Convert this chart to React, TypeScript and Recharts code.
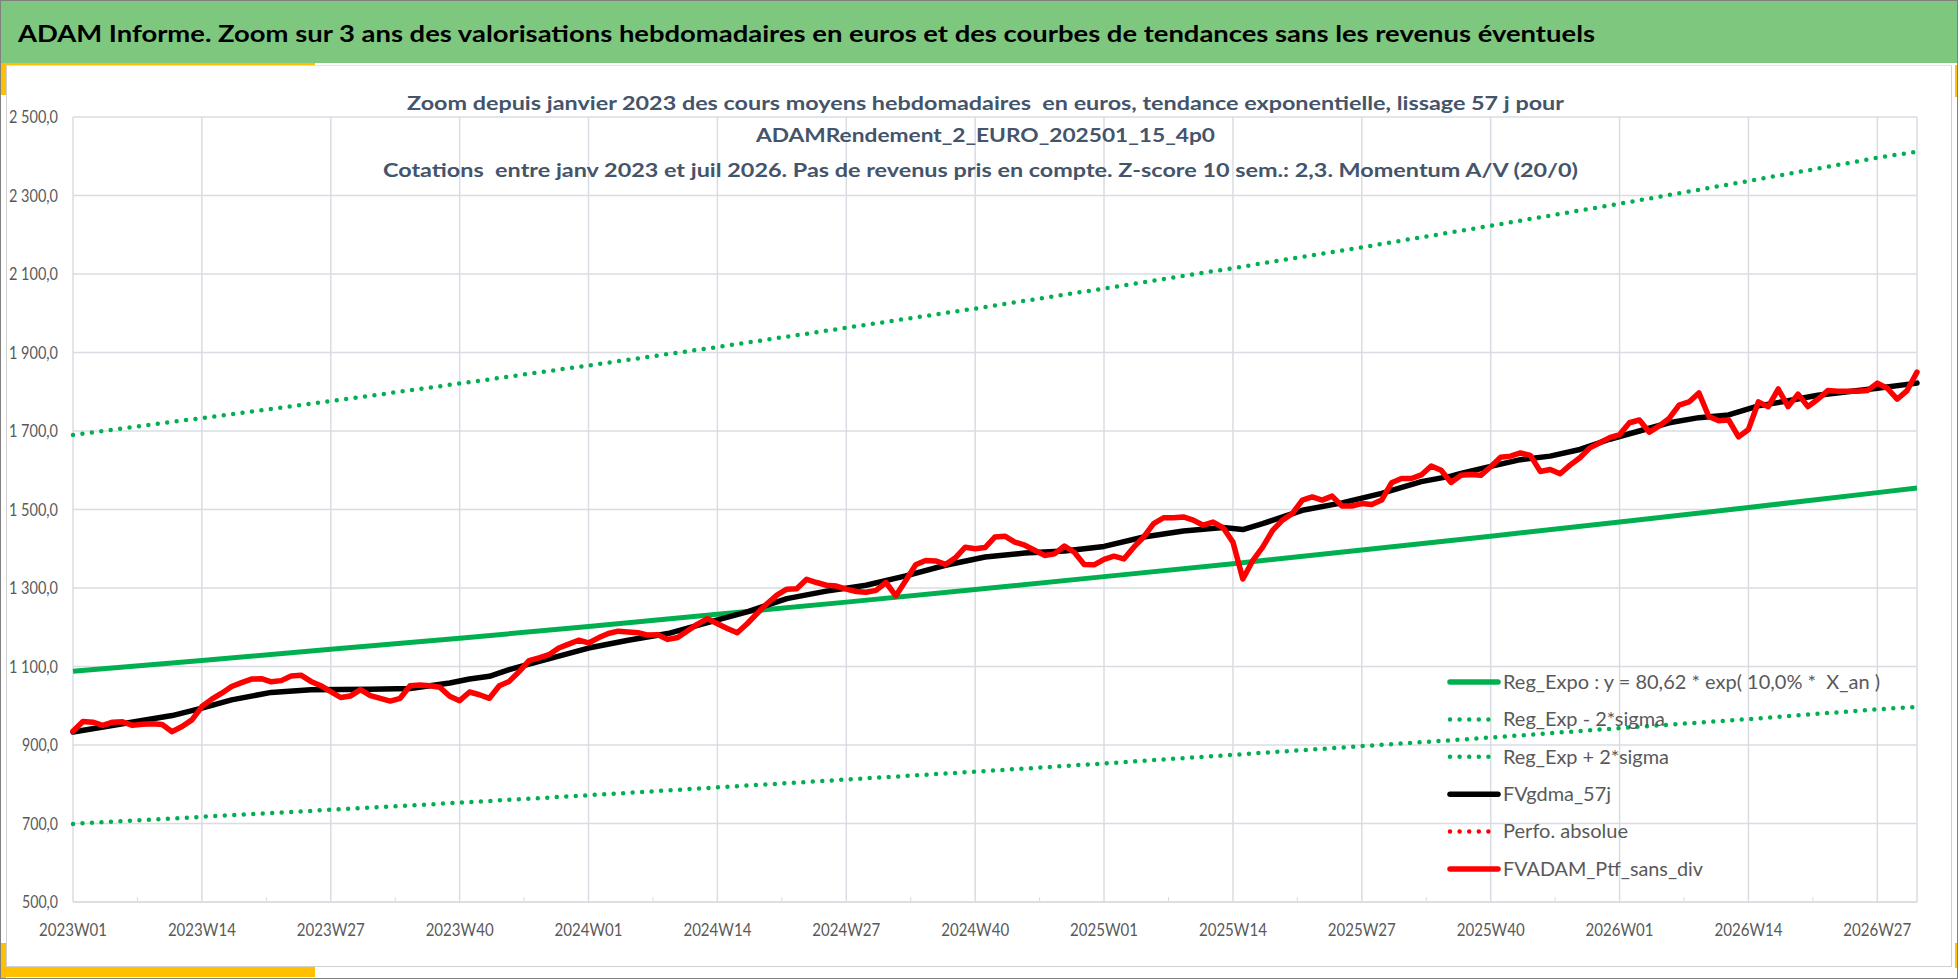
import { LineChart, Line, XAxis, YAxis, CartesianGrid, Legend } from 'recharts';

const W = 1958;
const H = 979;
const PLOT_LEFT = 73;
const PLOT_RIGHT = 1917;
const PLOT_TOP = 117;
const PLOT_BOTTOM = 902;

const GREEN = '#00B050';
const RED = '#FF0000';
const GRID = '#D9DCE2';
const LABEL = '#595959';
const TITLE = '#44546A';
const GOLD = '#FFC000';
const FONT = 'Lato, "Open Sans", sans-serif';

// categories: ISO weeks from 2023W01 to 2026W31
const FIRST_YEAR = 2023;
const WEEKS_PER_YEAR = 52;
const WEEK_COUNT = 187;
const weeks = Array.from({ length: WEEK_COUNT }, (_, i) => {
  const year = FIRST_YEAR + Math.floor(i / WEEKS_PER_YEAR);
  const wk = (i % WEEKS_PER_YEAR) + 1;
  return `${year}W${String(wk).padStart(2, '0')}`;
});

const xTicks = [
  '2023W01', '2023W14', '2023W27', '2023W40',
  '2024W01', '2024W14', '2024W27', '2024W40',
  '2025W01', '2025W14', '2025W27', '2025W40',
  '2026W01', '2026W14', '2026W27',
];
const yTicks = [500, 700, 900, 1100, 1300, 1500, 1700, 1900, 2100, 2300, 2500];

// trend curves, read at each labelled week and at the last week
const trendWeeks = [...xTicks, '2026W31'];
const regExpo = [1088, 1115, 1144, 1172, 1202, 1233, 1264, 1296, 1329, 1362, 1397, 1432, 1468, 1505, 1543, 1555];
const regMinus = [699, 717, 735, 753, 772, 792, 812, 832, 853, 875, 897, 919, 943, 966, 991, 997];
const regPlus = [1690, 1733, 1776, 1821, 1867, 1914, 1963, 2012, 2063, 2115, 2168, 2223, 2279, 2337, 2396, 2412];

// FVgdma_57j : [week index, value]
const gdma: [number, number][] = [
  [0, 933], [5, 954], [10, 975], [13, 994], [16, 1015], [20, 1034], [24, 1041], [30, 1042],
  [34, 1044], [38, 1058], [40, 1068], [42, 1075], [44, 1092], [46, 1106], [52, 1147], [56, 1167],
  [60, 1184], [64, 1212], [68, 1239], [72, 1273], [76, 1292], [80, 1307], [84, 1331], [88, 1358],
  [92, 1379], [96, 1389], [100, 1394], [104, 1406], [108, 1430], [112, 1445], [116, 1454], [118, 1449],
  [120, 1464], [124, 1498], [128, 1517], [132, 1541], [136, 1571], [139, 1585], [140, 1592], [143, 1610],
  [146, 1627], [149, 1636], [152, 1653], [155, 1679], [158, 1700], [161, 1721], [164, 1734], [167, 1741],
  [170, 1764], [173, 1777], [176, 1791], [179, 1800], [182, 1809], [186, 1822],
];

// FVADAM_Ptf_sans_div, one value per week
const ptfSansDiv = [
  935, 960, 958, 950, 958, 959, 950, 953, 954, 952,
  934, 947, 964, 998, 1017, 1032, 1049, 1059, 1068, 1069,
  1061, 1064, 1076, 1078, 1062, 1051, 1036, 1021, 1025, 1041,
  1026, 1019, 1012, 1019, 1051, 1053, 1051, 1047, 1024, 1013,
  1035, 1028, 1019, 1051, 1062, 1087, 1115, 1122, 1130, 1147,
  1157, 1167, 1160, 1173, 1184, 1190, 1188, 1186, 1180, 1181,
  1169, 1174, 1191, 1208, 1222, 1209, 1197, 1186, 1209, 1235,
  1260, 1282, 1297, 1298, 1322, 1314, 1307, 1305, 1297, 1291,
  1289, 1294, 1314, 1280, 1319, 1359, 1370, 1369, 1360, 1377,
  1404, 1400, 1403, 1430, 1432, 1417, 1409, 1396, 1383, 1387,
  1407, 1391, 1360, 1359, 1373, 1381, 1374, 1404, 1430, 1464,
  1479, 1479, 1481, 1473, 1460, 1468, 1454, 1417, 1323, 1370,
  1404, 1447, 1473, 1490, 1524, 1532, 1524, 1534, 1509, 1509,
  1515, 1513, 1524, 1568, 1579, 1579, 1588, 1611, 1600, 1569,
  1587, 1589, 1587, 1609, 1633, 1636, 1644, 1638, 1597, 1602,
  1591, 1613, 1632, 1657, 1670, 1683, 1691, 1721, 1728, 1697,
  1713, 1732, 1766, 1774, 1797, 1737, 1726, 1728, 1685, 1704,
  1774, 1762, 1807, 1762, 1794, 1762, 1781, 1803, 1801, 1801,
  1801, 1803, 1822, 1809, 1781, 1803, 1850,
];

type Row = {
  week: string;
  ptf: number | null;
  gdma: number | null;
  reg: number | null;
  lo: number | null;
  hi: number | null;
  perfo: number | null;
};

const data: Row[] = weeks.map((week, i) => ({
  week,
  ptf: ptfSansDiv[i] ?? null,
  gdma: null,
  reg: null,
  lo: null,
  hi: null,
  perfo: null,
}));
trendWeeks.forEach((w, k) => {
  const row = data[weeks.indexOf(w)];
  row.reg = regExpo[k];
  row.lo = regMinus[k];
  row.hi = regPlus[k];
});
gdma.forEach(([i, v]) => {
  data[i].gdma = v;
});

const seriesNames = [
  'Reg_Expo : y = 80,62 * exp( 10,0% *  X_an )',
  'Reg_Exp - 2*sigma',
  'Reg_Exp + 2*sigma',
  'FVgdma_57j',
  'Perfo. absolue',
  'FVADAM_Ptf_sans_div',
];
const legendWidths = [377, 162, 166, 108, 125, 200];

const titleLines = [
  { text: 'Zoom depuis janvier 2023 des cours moyens hebdomadaires  en euros, tendance exponentielle, lissage 57 j pour', x: 407, y: 110, len: 1157 },
  { text: 'ADAMRendement_2_EURO_202501_15_4p0', x: 756, y: 142, len: 459 },
  { text: 'Cotations  entre janv 2023 et juil 2026. Pas de revenus pris en compte. Z-score 10 sem.: 2,3. Momentum A/V (20/0)', x: 383, y: 177, len: 1195 },
];

const frNumber = (v: number) => {
  const thousands = Math.floor(v / 1000);
  const rest = v % 1000;
  return thousands > 0 ? `${thousands} ${String(rest).padStart(3, '0')},0` : `${rest},0`;
};

function XTick({ x, y, payload }: any) {
  const minorX = x + (PLOT_RIGHT - PLOT_LEFT) / 186 * 6.5;
  return (
    <g>
      <text
        x={x - 34}
        y={y + 34}
        textLength={68}
        lengthAdjust="spacingAndGlyphs"
        fontSize={16.5}
        fontFamily={FONT}
        fill={LABEL}
      >
        {payload.value}
      </text>
      {minorX < PLOT_RIGHT && <line x1={minorX} x2={minorX} y1={y - 5} y2={y} stroke={GRID} />}
    </g>
  );
}

function YTick({ x, y, payload }: any) {
  const label = frNumber(payload.value);
  const w = label.length > 5 ? 49 : 36;
  return (
    <text
      x={x - 15 - w}
      y={y + 6}
      textLength={w}
      lengthAdjust="spacingAndGlyphs"
      fontSize={16.5}
      fontFamily={FONT}
      fill={LABEL}
    >
      {label}
    </text>
  );
}

function LegendBox({ payload }: any) {
  const items = seriesNames
    .map((name) => (payload ?? []).find((p: any) => p.value === name))
    .filter(Boolean);
  return (
    <svg width={480} height={230} style={{ display: 'block' }}>
      {items.map((entry: any, i: number) => {
        const cy = 22 + i * 37.4;
        const dotted = !!entry.payload?.strokeDasharray;
        return (
          <g key={entry.value}>
            <line
              x1={10}
              x2={58}
              y1={cy}
              y2={cy}
              stroke={entry.color}
              strokeWidth={dotted ? 4.5 : 5.5}
              strokeDasharray={dotted ? '0 9.6' : undefined}
              strokeLinecap="round"
            />
            <text
              x={63}
              y={cy + 6.7}
              textLength={legendWidths[i]}
              lengthAdjust="spacingAndGlyphs"
              fontSize={18.6}
              fontFamily={FONT}
              fill={LABEL}
              style={{ whiteSpace: 'pre' }}
            >
              {entry.value}
            </text>
          </g>
        );
      })}
    </svg>
  );
}

export default function App() {
  return (
    <div
      style={{
        position: 'absolute',
        left: 0,
        top: 0,
        width: W,
        height: H,
        background: '#fff',
        overflow: 'hidden',
        fontFamily: FONT,
      }}
    >
      {/* header band */}
      <div style={{ position: 'absolute', left: 0, top: 0, width: W, height: 63, background: '#7DC87E' }} />
      <svg width={W} height={63} style={{ position: 'absolute', left: 0, top: 0 }}>
        <text
          x={18}
          y={42}
          textLength={1577}
          lengthAdjust="spacingAndGlyphs"
          fontSize={23.5}
          fontWeight={700}
          fontFamily={FONT}
          fill="#000"
        >
          ADAM Informe. Zoom sur 3 ans des valorisations hebdomadaires en euros et des courbes de tendances sans les revenus éventuels
        </text>
      </svg>

      {/* inner panel frame and gold corners */}
      <div style={{ position: 'absolute', left: 6, top: 65, width: W - 12, height: 902, borderLeft: '1px solid #D0D0D0', borderRight: '1px solid #D0D0D0', borderBottom: '1px solid #D0D0D0', borderTop: '1px solid #E4E4E4', boxSizing: 'border-box' }} />
      <div style={{ position: 'absolute', left: 0, top: 63, width: 315, height: 2, background: GOLD }} />
      <div style={{ position: 'absolute', left: 0, top: 63, width: 6, height: 32, background: GOLD }} />
      <div style={{ position: 'absolute', left: W - 3, top: 65, width: 3, height: 32, background: GOLD }} />
      <div style={{ position: 'absolute', left: 0, top: 943, width: 6, height: 35, background: GOLD }} />
      <div style={{ position: 'absolute', left: 0, top: 967, width: 315, height: 10, background: GOLD }} />
      <div style={{ position: 'absolute', left: W - 3, top: 943, width: 3, height: 25, background: GOLD }} />

      <div style={{ position: 'absolute', left: 0, top: 0 }}>
        <LineChart
          width={W}
          height={H}
          data={data}
          margin={{ top: PLOT_TOP, right: W - PLOT_RIGHT, bottom: H - PLOT_BOTTOM - 30, left: 0 }}
        >
          <CartesianGrid stroke={GRID} strokeWidth={1.5} />
          <XAxis
            dataKey="week"
            ticks={xTicks}
            interval={0}
            height={30}
            tickSize={0}
            tickMargin={0}
            tickLine={false}
            axisLine={{ stroke: GRID, strokeWidth: 1.5 }}
            tick={<XTick />}
          />
          <YAxis
            width={PLOT_LEFT}
            domain={[500, 2500]}
            ticks={yTicks}
            interval={0}
            tickSize={0}
            tickMargin={0}
            tickLine={false}
            axisLine={false}
            tick={<YTick />}
          />
          <Legend
            layout="vertical"
            align="center"
            verticalAlign="middle"
            content={<LegendBox />}
            wrapperStyle={{ left: 1440, top: 660, width: 480, height: 230 }}
          />
          <Line
            name={seriesNames[0]}
            dataKey="reg"
            stroke={GREEN}
            strokeWidth={5}
            dot={false}
            activeDot={false}
            connectNulls
            isAnimationActive={false}
          />
          <Line
            name={seriesNames[1]}
            dataKey="lo"
            stroke={GREEN}
            strokeWidth={4.5}
            strokeDasharray="0 9.5"
            strokeLinecap="round"
            dot={false}
            activeDot={false}
            connectNulls
            isAnimationActive={false}
          />
          <Line
            name={seriesNames[2]}
            dataKey="hi"
            stroke={GREEN}
            strokeWidth={4.5}
            strokeDasharray="0 9.5"
            strokeLinecap="round"
            dot={false}
            activeDot={false}
            connectNulls
            isAnimationActive={false}
          />
          <Line
            name={seriesNames[3]}
            dataKey="gdma"
            stroke="#000"
            strokeWidth={5.5}
            strokeLinejoin="round"
            strokeLinecap="round"
            dot={false}
            activeDot={false}
            connectNulls
            isAnimationActive={false}
          />
          <Line
            name={seriesNames[4]}
            dataKey="perfo"
            stroke={RED}
            strokeWidth={4.5}
            strokeDasharray="0 9.5"
            strokeLinecap="round"
            dot={false}
            activeDot={false}
            isAnimationActive={false}
          />
          <Line
            name={seriesNames[5]}
            dataKey="ptf"
            stroke={RED}
            strokeWidth={5.5}
            strokeLinejoin="round"
            strokeLinecap="round"
            dot={false}
            activeDot={false}
            isAnimationActive={false}
          />
        </LineChart>
      </div>

      {/* chart title, drawn over the plot area */}
      <svg width={W} height={200} style={{ position: 'absolute', left: 0, top: 0, pointerEvents: 'none' }}>
        {titleLines.map((l) => (
          <text
            key={l.text}
            x={l.x}
            y={l.y}
            textLength={l.len}
            lengthAdjust="spacingAndGlyphs"
            fontSize={19.5}
            fontWeight={700}
            fontFamily={FONT}
            fill={TITLE}
            style={{ whiteSpace: 'pre' }}
          >
            {l.text}
          </text>
        ))}
      </svg>

      {/* outer border */}
      <div style={{ position: 'absolute', left: 0, top: 0, width: W, height: H, border: '1px solid #808080', boxSizing: 'border-box', pointerEvents: 'none' }} />
    </div>
  );
}
